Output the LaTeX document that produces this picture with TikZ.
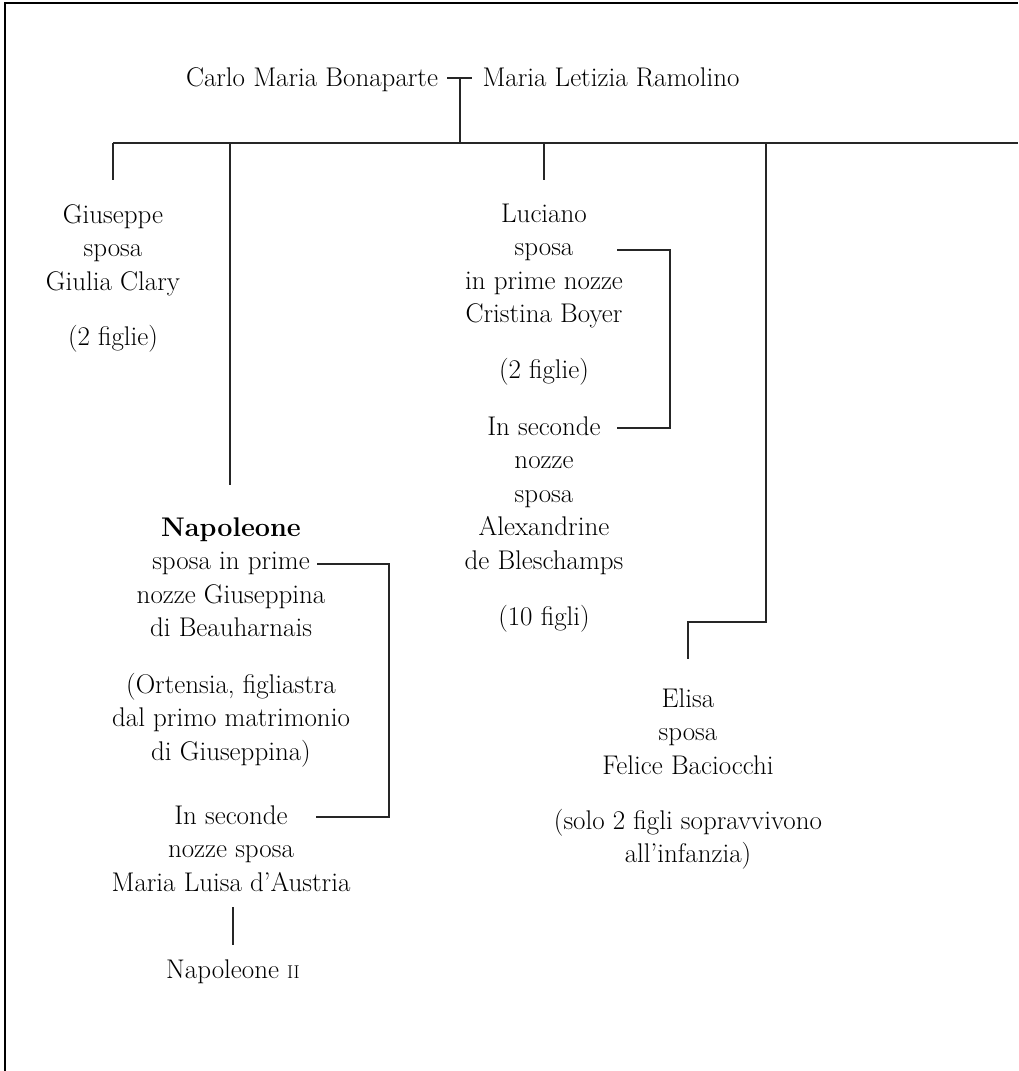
\documentclass[tikz,border=0pt]{standalone}
\usepackage{fontspec}
\usetikzlibrary{calc}
\begin{document}
\begin{tikzpicture}[x=1pt,y=-1pt,
  txt/.style={font=\fontsize{27}{33.5}\selectfont, align=center, inner sep=0pt, anchor=base},
  ln/.style={line width=1.4pt, line join=miter, draw=black!85},
  frame/.style={line width=2pt, draw=black}]
\useasboundingbox (0,0) rectangle (1018,1071);
\draw[frame] (5,1071) -- (5,3) -- (1018,3);

% parents (anchor base = baseline of the last line)
\node[txt] (carlo) at (312,86) {Carlo Maria Bonaparte};
\node[txt] (letizia) at (611,86) {Maria Letizia Ramolino};
\coordinate (m1) at (447,78);
\coordinate (m2) at (472,78);
\coordinate (mc) at (460,78);
\coordinate (barL) at (113,143);
\coordinate (barR) at (1018,143);
\draw[ln] (m1) -- (m2);
\draw[ln] (mc) -- (mc |- barL);
\draw[ln] (barL) -- (barR);

% Giuseppe
\node[txt] (gius) at (113,290) {Giuseppe\\sposa\\Giulia Clary};
\node[txt] (giusf) at (113,345) {(2 figlie)};
\coordinate (gtop) at (113,180);
\draw[ln] (barL) -- (gtop);

% Napoleone
\node[txt] (napo) at (231,636.5) {\textbf{Napoleone}\\sposa in prime\\nozze Giuseppina\\di Beauharnais};
\node[txt] (orte) at (231,760) {(Ortensia, figliastra\\dal primo matrimonio\\di Giuseppina)};
\node[txt] (napo2) at (231,891) {In seconde\\nozze sposa\\Maria Luisa d’Austria};
\node[txt] (napoII) at (233,978) {Napoleone {\fontsize{18.5}{18.5}\selectfont II}};
\coordinate (ntop) at (230,485);
\draw[ln] (ntop |- barL) -- (ntop);
\coordinate (nb1) at (317,564);
\coordinate (nb2) at (389,564);
\coordinate (nb3) at (389,817);
\coordinate (nb4) at (316,817);
\draw[ln] (nb1) -- (nb2) -- (nb3) -- (nb4);
\coordinate (n2a) at (233,907);
\coordinate (n2b) at (233,945);
\draw[ln] (n2a) -- (n2b);

% Luciano
\node[txt] (luc) at (544,322.5) {Luciano\\sposa\\in prime nozze\\Cristina Boyer};
\node[txt] (lucf) at (544,378) {(2 figlie)};
\node[txt] (luc2) at (544,569) {In seconde\\nozze\\sposa\\Alexandrine\\de Bleschamps};
\node[txt] (lucf2) at (544,625) {(10 figli)};
\coordinate (ltop) at (544,180);
\draw[ln] (ltop |- barL) -- (ltop);
\coordinate (lb1) at (617,250);
\coordinate (lb2) at (670,250);
\coordinate (lb3) at (670,428);
\coordinate (lb4) at (617,428);
\draw[ln] (lb1) -- (lb2) -- (lb3) -- (lb4);

% Elisa
\node[txt] (elisa) at (688,774) {Elisa\\sposa\\Felice Baciocchi};
\node[txt] (elisaf) at (688,862.5) {(solo 2 figli sopravvivono\\all’infanzia)};
\coordinate (e1) at (766,143);
\coordinate (e2) at (766,622);
\coordinate (e3) at (688,622);
\coordinate (e4) at (688,659);
\draw[ln] (e1) -- (e2) -- (e3) -- (e4);
\end{tikzpicture}
\end{document}
